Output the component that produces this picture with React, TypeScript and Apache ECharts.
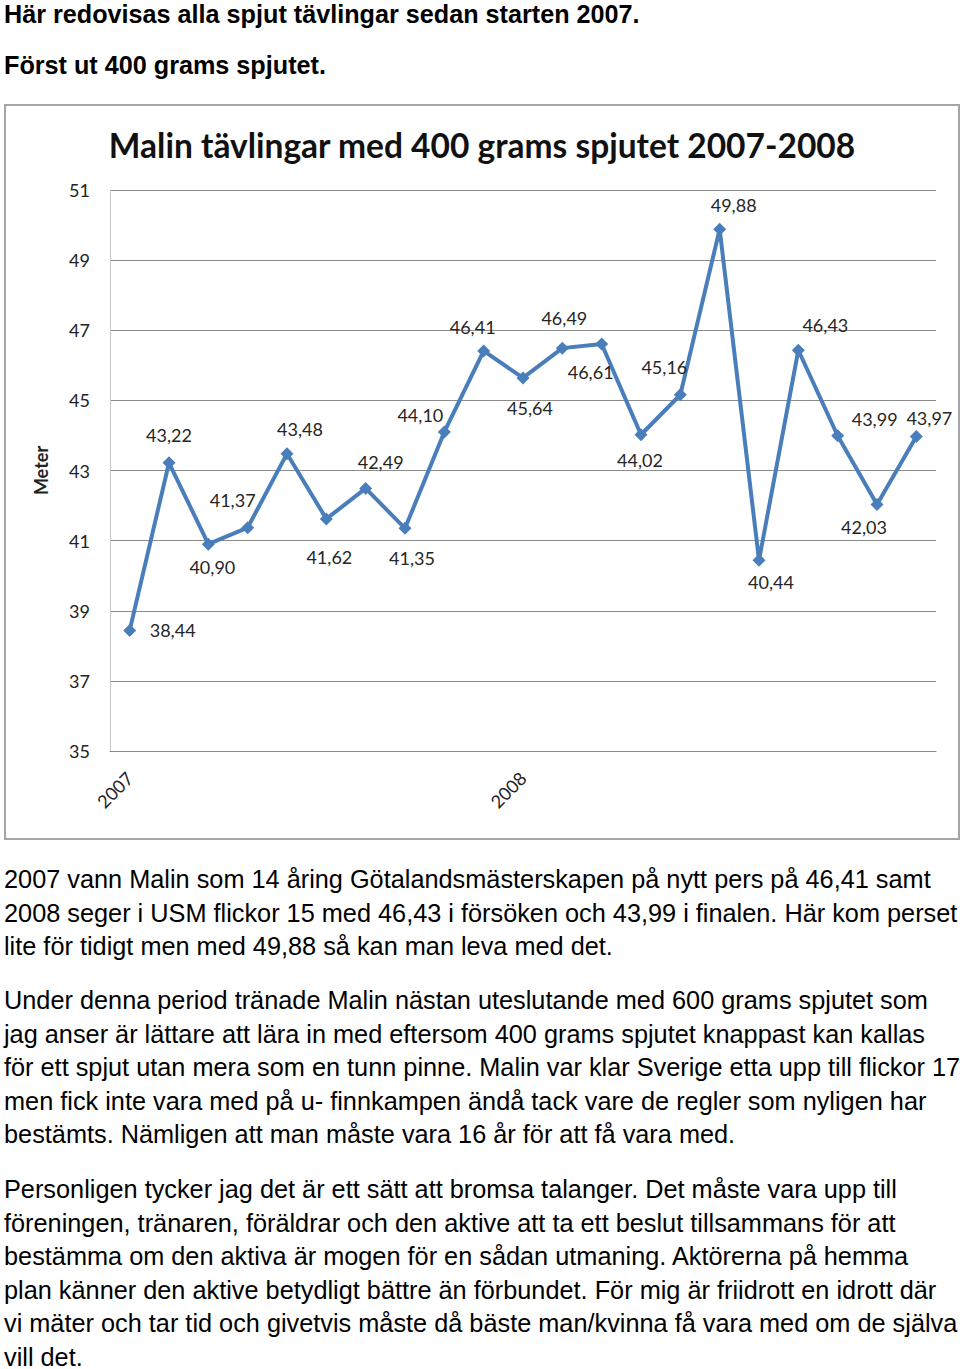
import React, { useEffect, useRef } from "react";
import * as echarts from "echarts";

const categories = ["2007", "", "", "", "", "", "", "", "", "", "2008", "", "", "", "", "", "", "", "", "", ""];
const values = [38.44, 43.22, 40.9, 41.37, 43.48, 41.62, 42.49, 41.35, 44.1, 46.41, 45.64, 46.49, 46.61, 44.02, 45.16, 49.88, 40.44, 46.43, 43.99, 42.03, 43.97];
const labelOffsets = [
  [43, 0], [0, -28], [4, 23], [-15, -28], [13, -25], [3, 38], [15, -26], [7, 30], [-24, -17], [-11, -24],
  [7, 30], [2, -30], [-11, 28], [-1, 25], [-16, -28], [14, -24], [12, 22], [27, -25], [37, -17], [-13, 22], [13, -18],
];
const yMin = 35;
const yMax = 51;
const yStep = 2;
const chartTitle = "Malin tävlingar med 400 grams spjutet 2007-2008";
const yAxisName = "Meter";

const headLines = [
  "Här redovisas alla spjut tävlingar sedan starten 2007.",
  "Först ut 400 grams spjutet.",
];
const paragraphs = [
  [
    "2007 vann Malin som 14 åring Götalandsmästerskapen på nytt pers på 46,41 samt",
    "2008 seger i USM flickor 15 med 46,43 i försöken och 43,99 i finalen. Här kom perset",
    "lite för tidigt men med 49,88 så kan man leva med det.",
  ],
  [
    "Under denna period tränade Malin nästan uteslutande med 600 grams spjutet som",
    "jag anser är lättare att lära in med eftersom 400 grams spjutet knappast kan kallas",
    "för ett spjut utan mera som en tunn pinne. Malin var klar Sverige etta upp till flickor 17",
    "men fick inte vara med på u- finnkampen ändå tack vare de regler som nyligen har",
    "bestämts. Nämligen att man måste vara 16 år för att få vara med.",
  ],
  [
    "Personligen tycker jag det är ett sätt att bromsa talanger. Det måste vara upp till",
    "föreningen, tränaren, föräldrar och den aktive att ta ett beslut tillsammans för att",
    "bestämma om den aktiva är mogen för en sådan utmaning. Aktörerna på hemma",
    "plan känner den aktive betydligt bättre än förbundet. För mig är friidrott en idrott där",
    "vi mäter och tar tid och givetvis måste då bäste man/kvinna få vara med om de själva",
    "vill det.",
  ],
];
const paragraphTops = [863, 984, 1173];

const chartFont = "Lato, 'Open Sans', sans-serif";

export default function App() {
  const ref = useRef<HTMLDivElement>(null);

  useEffect(() => {
    if (!ref.current) return;
    const chart = echarts.init(ref.current, null, { renderer: "svg" });
    chart.setOption({
      animation: false,
      backgroundColor: "#ffffff",
      title: {
        text: chartTitle,
        left: "center",
        top: 17,
        textStyle: { fontFamily: chartFont, fontWeight: "bold", fontSize: 33.5, color: "#111" },
      },
      grid: { left: 104, top: 84, width: 826, height: 561, containLabel: false },
      xAxis: {
        type: "category",
        data: categories,
        boundaryGap: true,
        axisLine: { show: true, lineStyle: { color: "#8c8c8c", width: 1 } },
        axisTick: { show: false },
        axisLabel: {
          interval: 0,
          rotate: 45,
          margin: 24,
          fontFamily: chartFont,
          fontSize: 18,
          color: "#222",
        },
      },
      yAxis: {
        type: "value",
        min: yMin,
        max: yMax,
        interval: yStep,
        name: yAxisName,
        nameLocation: "middle",
        nameRotate: 90,
        nameGap: 60,
        nameTextStyle: { fontFamily: chartFont, fontWeight: "bold", fontSize: 18, color: "#222" },
        axisLine: { show: true, lineStyle: { color: "#c8c8c8", width: 1 } },
        axisTick: { show: false },
        splitLine: { show: true, lineStyle: { color: "#8c8c8c", width: 1 } },
        axisLabel: { margin: 20, fontFamily: chartFont, fontSize: 18, color: "#222" },
      },
      series: [
        {
          type: "line",
          data: values.map((v, i) => ({ value: v, label: { offset: labelOffsets[i] } })),
          symbol: "diamond",
          symbolSize: 13,
          lineStyle: { color: "#4a7ebb", width: 4 },
          itemStyle: { color: "#4a7ebb" },
          label: {
            show: true,
            position: "inside",
            fontFamily: chartFont,
            fontSize: 18,
            color: "#262626",
            textBorderWidth: 0,
            formatter: (p: any) => Number(p.value).toFixed(2).replace(".", ","),
          },
        },
      ],
    });
    return () => chart.dispose();
  }, []);

  const bodyFont = "'Liberation Sans', Arial, Helvetica, sans-serif";

  return (
    <div style={{ position: "absolute", left: 0, top: 0, width: 960, height: 1369, background: "#fff", overflow: "hidden", fontFamily: bodyFont, color: "#000" }}>
      {headLines.map((t, i) => (
        <div key={"h" + i} style={{ position: "absolute", left: 4, top: i === 0 ? 0 : 51, fontSize: 25.2, fontWeight: "bold", lineHeight: "normal", whiteSpace: "nowrap" }}>
          {t}
        </div>
      ))}
      <div style={{ position: "absolute", left: 4, top: 104, width: 956, height: 736, boxSizing: "border-box", border: "2px solid #a6a6a6" }}>
        <div ref={ref} style={{ width: 952, height: 732 }} />
      </div>
      {paragraphs.map((lines, pi) =>
        lines.map((t, li) => (
          <div key={"p" + pi + "_" + li} style={{ position: "absolute", left: 4, top: paragraphTops[pi] + li * 33.5, fontSize: 25.3, lineHeight: "33.5px", whiteSpace: "nowrap" }}>
            {t}
          </div>
        ))
      )}
    </div>
  );
}
